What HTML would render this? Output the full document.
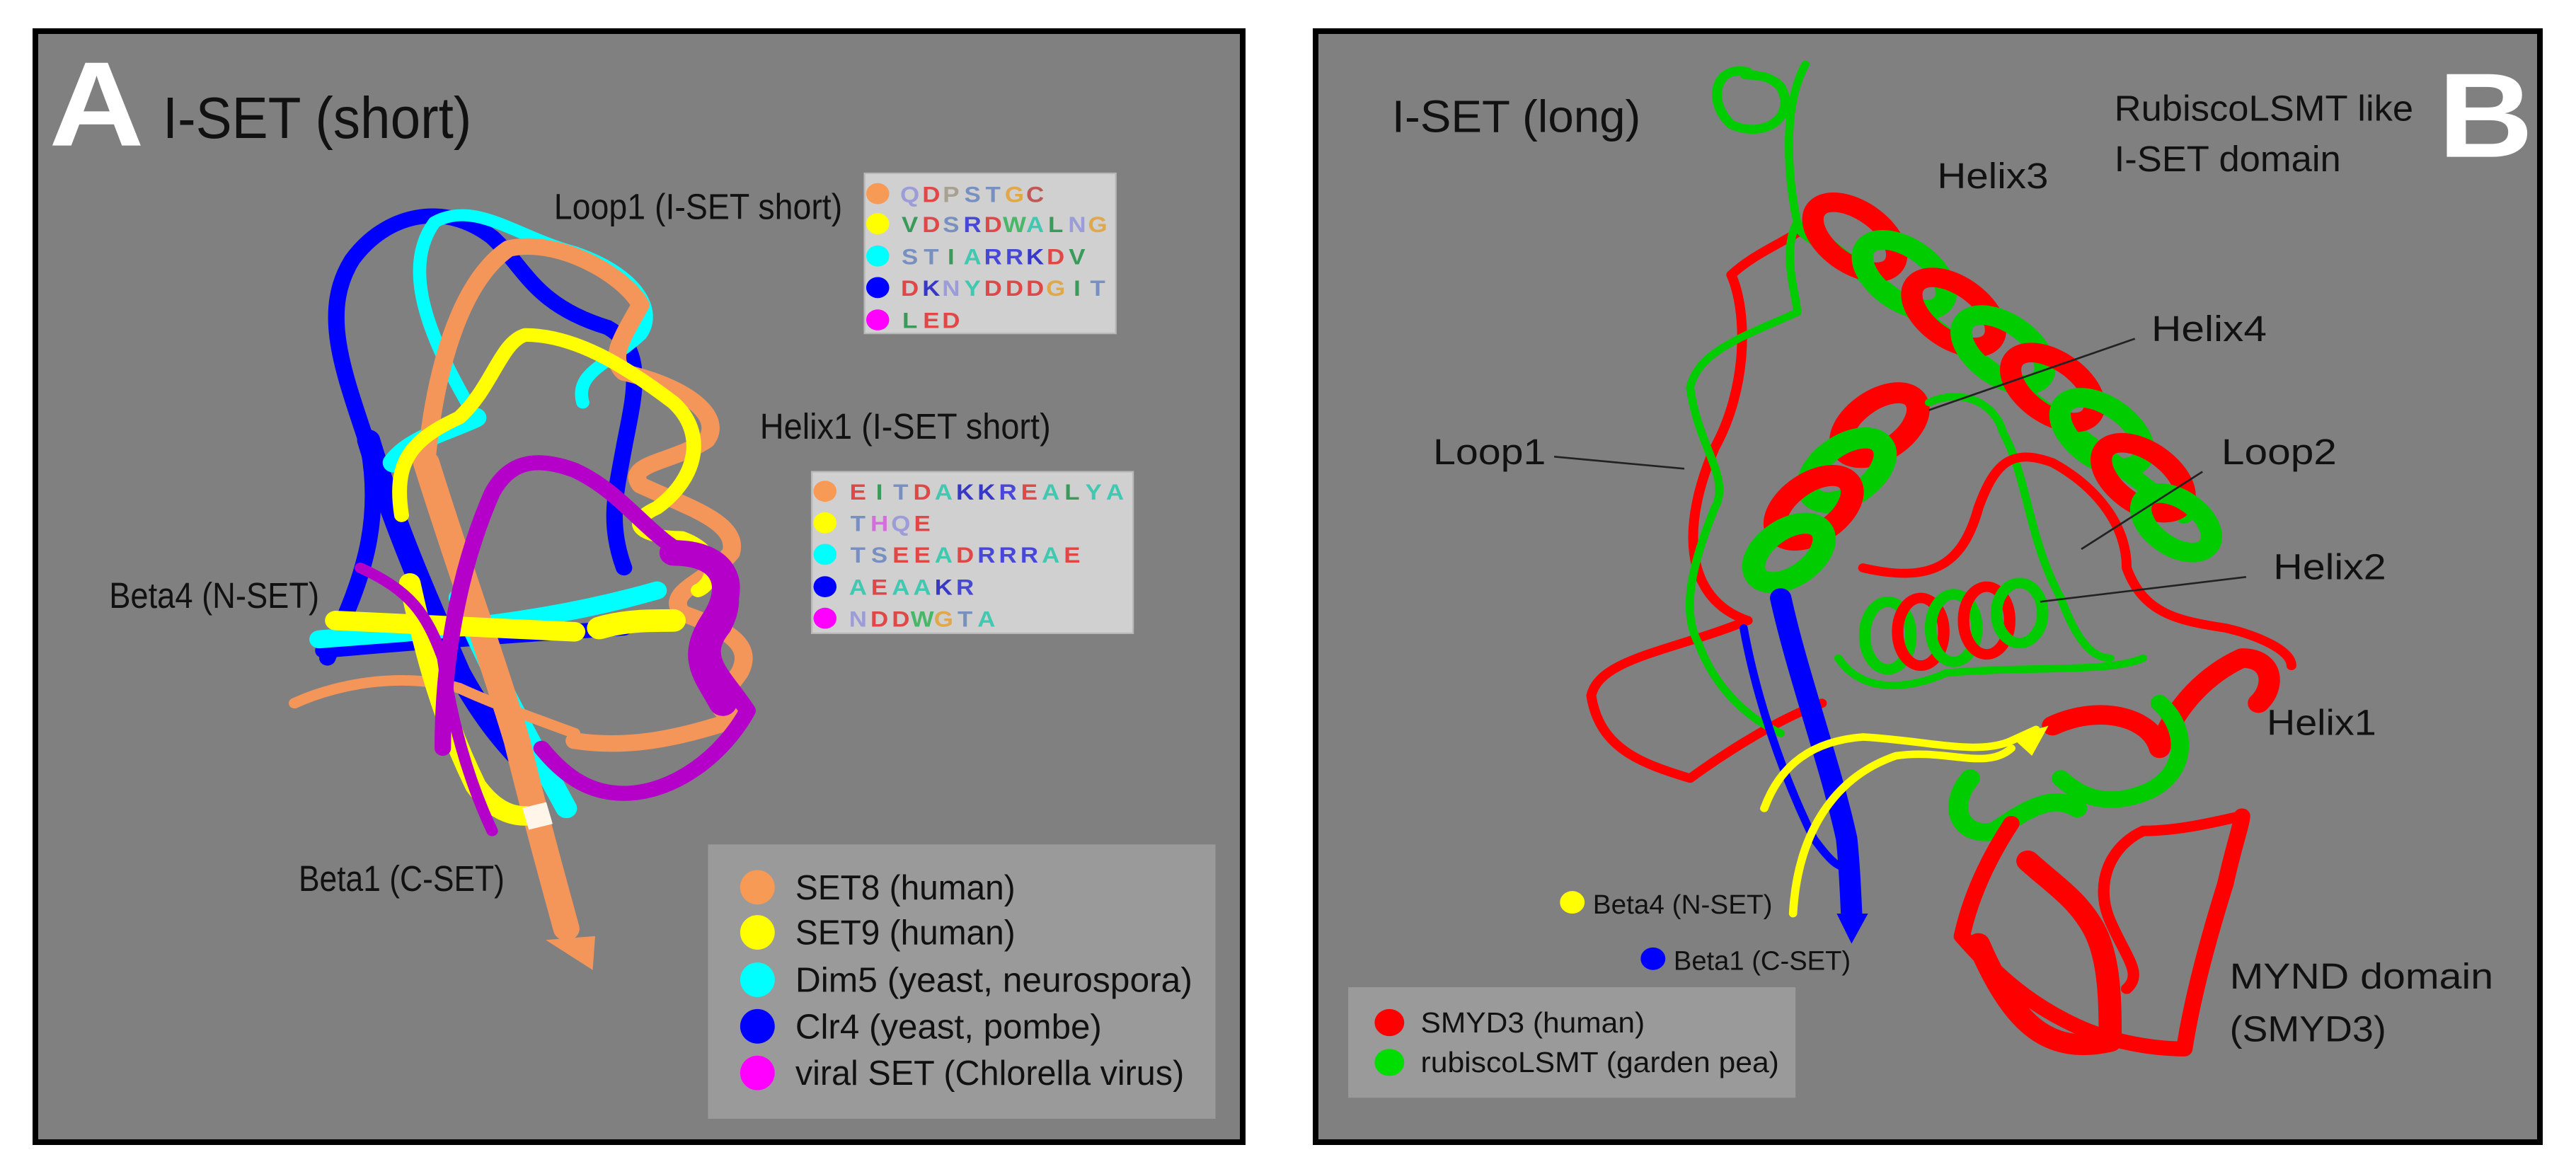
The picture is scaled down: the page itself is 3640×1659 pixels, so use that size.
<!DOCTYPE html>
<html><head><meta charset="utf-8"><style>
html,body{margin:0;padding:0;background:#fff;}
svg{display:block;}
text{font-family:"Liberation Sans",sans-serif;}
</style></head><body>
<svg width="3640" height="1659" viewBox="0 0 3640 1659" xmlns="http://www.w3.org/2000/svg">
<rect width="3640" height="1659" fill="#fff"/>
<!-- Panel A -->
<rect x="50" y="44" width="1706" height="1570" fill="#808080" stroke="#000" stroke-width="8"/>
<g transform="translate(-2.9,-4.6) scale(1.164,1.062)">
  <text x="62" y="198" font-size="160" font-weight="bold" fill="#fff">A</text>
  <text x="200" y="188" font-size="78" fill="#111" textLength="375" lengthAdjust="spacingAndGlyphs">I-SET (short)</text>
  <text x="675" y="296" font-size="48" fill="#111" textLength="350" lengthAdjust="spacingAndGlyphs">Loop1 (I-SET short)</text>
  <text x="925" y="588" font-size="48" fill="#111" textLength="353" lengthAdjust="spacingAndGlyphs">Helix1 (I-SET short)</text>
  <text x="135" y="813" font-size="48" fill="#111" textLength="255" lengthAdjust="spacingAndGlyphs">Beta4 (N-SET)</text>
  <text x="365" y="1190" font-size="48" fill="#111" textLength="250" lengthAdjust="spacingAndGlyphs">Beta1 (C-SET)</text>

  <!-- ribbons -->
  <g fill="none" stroke-linecap="round" stroke-linejoin="round">
    <path d="M400,880 C430,800 470,720 450,600 C420,500 390,420 430,350 C470,290 540,270 600,320 C640,360 650,410 740,440 C790,470 770,540 760,600 C750,660 740,700 760,760" stroke="#0000ff" stroke-width="20"/>
    <path d="M450,590 C480,700 520,800 560,900 C590,960 620,1000 650,1030" stroke="#0000ff" stroke-width="28"/>
    <path d="M395,870 C500,860 620,850 760,840" stroke="#0000ff" stroke-width="20"/>
    <path d="M580,560 C520,450 490,360 530,300 C580,270 630,320 700,340 C780,370 800,420 780,450 C740,490 700,500 710,540" stroke="#00ffff" stroke-width="16"/>
    <path d="M480,620 C500,590 540,580 580,560" stroke="#00ffff" stroke-width="26"/>
    <path d="M560,800 C600,900 640,980 690,1080" stroke="#00ffff" stroke-width="26"/>
    <path d="M390,855 C500,845 640,840 800,790" stroke="#00ffff" stroke-width="24"/>
    <path d="M520,620 C530,500 560,380 620,335 C680,320 760,370 780,410 C760,450 740,480 760,500 C840,520 880,560 860,590 C820,620 760,620 780,650 C840,680 900,700 890,740 C860,780 810,790 830,820 C880,840 920,860 900,900 C880,930 860,950 900,960 C820,990 760,1000 700,990" stroke="#f4955a" stroke-width="22"/>
    <path d="M360,940 C420,910 500,900 560,920 C600,940 650,960 700,980" stroke="#f4955a" stroke-width="14"/>
    <path d="M520,620 C560,760 600,880 630,990 C650,1080 670,1160 690,1240" stroke="#f4955a" stroke-width="32"/>
    <path d="M490,690 C480,620 500,590 560,560 C600,520 610,460 640,450 C700,450 760,490 820,540 C860,580 850,640 800,680 C760,700 780,720 830,720 C880,740 870,780 850,790" stroke="#ffff00" stroke-width="18"/>
    <path d="M410,830 C500,835 600,840 700,845" stroke="#ffff00" stroke-width="26"/>
    <path d="M500,780 C520,880 540,960 580,1050 C600,1080 620,1090 640,1090" stroke="#ffff00" stroke-width="26"/>
    <path d="M730,840 C760,830 790,830 820,830" stroke="#ffff00" stroke-width="30"/>
    <path d="M540,1000 C540,880 560,760 600,660 C620,620 650,610 700,630 C760,660 790,720 840,745 C890,760 900,800 880,840 C850,880 880,900 910,950 C880,1010 820,1060 760,1060 C720,1060 690,1040 660,1000" stroke="#b400c8" stroke-width="20"/>
    <path d="M820,740 C880,740 900,780 870,830 C840,880 860,900 880,940" stroke="#b400c8" stroke-width="34"/>
    <path d="M440,760 C500,790 520,820 540,880 C550,960 570,1040 600,1110" stroke="#b400c8" stroke-width="14"/>
  </g>
  <polygon points="665,1255 725,1250 722,1295" fill="#f4955a"/>
  <rect x="640" y="1075" width="30" height="30" fill="#fff5e8" transform="rotate(-15 655 1090)"/>

  <!-- seq box 1 -->
  <rect x="1052" y="235" width="305" height="213" fill="#d0d0d0" stroke="#b8b8b8" stroke-width="2"/>
  <g font-size="30" font-weight="bold" text-anchor="middle">
    <circle cx="1068" cy="262" r="14" fill="#f79a55"/><circle cx="1068" cy="302" r="14" fill="#ffff00"/><circle cx="1068" cy="345" r="14" fill="#00ffff"/><circle cx="1068" cy="387" r="14" fill="#0000ff"/><circle cx="1068" cy="430" r="14" fill="#ff00ff"/>
    <g transform="translate(0,11)">
    <text x="1107" y="262" fill="#9c9cd8">Q</text><text x="1133" y="262" fill="#e04848">D</text><text x="1157" y="262" fill="#a8a090">P</text><text x="1183" y="262" fill="#7890c0">S</text><text x="1208" y="262" fill="#7890c0">T</text><text x="1234" y="262" fill="#e0a848">G</text><text x="1259" y="262" fill="#c05858">C</text>
    <text x="1107" y="302" fill="#3a9a5a">V</text><text x="1133" y="302" fill="#e04848">D</text><text x="1157" y="302" fill="#7890c0">S</text><text x="1183" y="302" fill="#4848d8">R</text><text x="1208" y="302" fill="#e04848">D</text><text x="1234" y="302" fill="#48b868">W</text><text x="1259" y="302" fill="#40c8b0">A</text><text x="1284" y="302" fill="#3a9a5a">L</text><text x="1310" y="302" fill="#9c9cd8">N</text><text x="1335" y="302" fill="#e0a848">G</text>
    <text x="1107" y="345" fill="#7890c0">S</text><text x="1133" y="345" fill="#7890c0">T</text><text x="1157" y="345" fill="#3a9a5a">I</text><text x="1183" y="345" fill="#40c8b0">A</text><text x="1208" y="345" fill="#4848d8">R</text><text x="1234" y="345" fill="#4848d8">R</text><text x="1259" y="345" fill="#3838c8">K</text><text x="1284" y="345" fill="#e04848">D</text><text x="1310" y="345" fill="#3a9a5a">V</text>
    <text x="1107" y="387" fill="#e04848">D</text><text x="1133" y="387" fill="#3838c8">K</text><text x="1157" y="387" fill="#9c9cd8">N</text><text x="1183" y="387" fill="#40c8b0">Y</text><text x="1208" y="387" fill="#e04848">D</text><text x="1234" y="387" fill="#e04848">D</text><text x="1259" y="387" fill="#e04848">D</text><text x="1284" y="387" fill="#e0a848">G</text><text x="1310" y="387" fill="#3a9a5a">I</text><text x="1335" y="387" fill="#7890c0">T</text>
    <text x="1107" y="430" fill="#3a9a5a">L</text><text x="1133" y="430" fill="#e04848">E</text><text x="1157" y="430" fill="#e04848">D</text>
    </g>
  </g>
  <!-- seq box 2 -->
  <rect x="988" y="632" width="390" height="215" fill="#d0d0d0" stroke="#b8b8b8" stroke-width="2"/>
  <g font-size="30" font-weight="bold" text-anchor="middle">
    <circle cx="1004" cy="658" r="14" fill="#f79a55"/><circle cx="1004" cy="700" r="14" fill="#ffff00"/><circle cx="1004" cy="742" r="14" fill="#00ffff"/><circle cx="1004" cy="785" r="14" fill="#0000ff"/><circle cx="1004" cy="827" r="14" fill="#ff00ff"/>
    <g transform="translate(0,11)">
    <text x="1044" y="658" fill="#e04848">E</text><text x="1070" y="658" fill="#3a9a5a">I</text><text x="1096" y="658" fill="#7890c0">T</text><text x="1122" y="658" fill="#e04848">D</text><text x="1148" y="658" fill="#40c8b0">A</text><text x="1174" y="658" fill="#3838c8">K</text><text x="1200" y="658" fill="#3838c8">K</text><text x="1226" y="658" fill="#4848d8">R</text><text x="1252" y="658" fill="#e04848">E</text><text x="1278" y="658" fill="#40c8b0">A</text><text x="1304" y="658" fill="#3a9a5a">L</text><text x="1330" y="658" fill="#40c8b0">Y</text><text x="1356" y="658" fill="#40c8b0">A</text>
    <text x="1044" y="700" fill="#7890c0">T</text><text x="1070" y="700" fill="#d070d8">H</text><text x="1096" y="700" fill="#9c9cd8">Q</text><text x="1122" y="700" fill="#e04848">E</text>
    <text x="1044" y="742" fill="#7890c0">T</text><text x="1070" y="742" fill="#7890c0">S</text><text x="1096" y="742" fill="#e04848">E</text><text x="1122" y="742" fill="#e04848">E</text><text x="1148" y="742" fill="#40c8b0">A</text><text x="1174" y="742" fill="#e04848">D</text><text x="1200" y="742" fill="#4848d8">R</text><text x="1226" y="742" fill="#4848d8">R</text><text x="1252" y="742" fill="#4848d8">R</text><text x="1278" y="742" fill="#40c8b0">A</text><text x="1304" y="742" fill="#e04848">E</text>
    <text x="1044" y="785" fill="#40c8b0">A</text><text x="1070" y="785" fill="#e04848">E</text><text x="1096" y="785" fill="#40c8b0">A</text><text x="1122" y="785" fill="#40c8b0">A</text><text x="1148" y="785" fill="#3838c8">K</text><text x="1174" y="785" fill="#4848d8">R</text>
    <text x="1044" y="827" fill="#9c9cd8">N</text><text x="1070" y="827" fill="#e04848">D</text><text x="1096" y="827" fill="#e04848">D</text><text x="1122" y="827" fill="#48b868">W</text><text x="1148" y="827" fill="#e0a848">G</text><text x="1174" y="827" fill="#7890c0">T</text><text x="1200" y="827" fill="#40c8b0">A</text>
    </g>
  </g>

  <!-- legend A -->
  <rect x="862" y="1128" width="616" height="365" fill="#9a9a9a"/>
  <g font-size="46" fill="#111">
    <ellipse cx="922" cy="1185" rx="21" ry="23" fill="#f79a55"/><text x="968" y="1201" textLength="267" lengthAdjust="spacingAndGlyphs">SET8 (human)</text>
    <ellipse cx="922" cy="1245" rx="21" ry="23" fill="#ffff00"/><text x="968" y="1261" textLength="267" lengthAdjust="spacingAndGlyphs">SET9 (human)</text>
    <ellipse cx="922" cy="1308" rx="21" ry="23" fill="#00ffff"/><text x="968" y="1324" textLength="482" lengthAdjust="spacingAndGlyphs">Dim5 (yeast, neurospora)</text>
    <ellipse cx="922" cy="1370" rx="21" ry="23" fill="#0000ff"/><text x="968" y="1386" textLength="372" lengthAdjust="spacingAndGlyphs">Clr4 (yeast, pombe)</text>
    <ellipse cx="922" cy="1432" rx="21" ry="23" fill="#ff00ff"/><text x="968" y="1448" textLength="472" lengthAdjust="spacingAndGlyphs">viral SET (Chlorella virus)</text>
  </g>
</g>

<!-- Panel B -->
<rect x="1859" y="44" width="1730" height="1570" fill="#808080" stroke="#000" stroke-width="8"/>
<g transform="translate(1817.8,-4.6) scale(1.164,1.062)">
  <text x="128" y="180" font-size="60" fill="#111" textLength="302" lengthAdjust="spacingAndGlyphs">I-SET (long)</text>
  <text x="1005" y="165" font-size="48" fill="#111" textLength="363" lengthAdjust="spacingAndGlyphs">RubiscoLSMT like</text>
  <text x="1005" y="232" font-size="48" fill="#111" textLength="275" lengthAdjust="spacingAndGlyphs">I-SET domain</text>
  <text x="1398" y="213" font-size="160" font-weight="bold" fill="#fff">B</text>

  <g fill="none" stroke-linecap="round" stroke-linejoin="round">
    <!-- loops -->
    <path d="M640,300 C600,330 570,340 540,370 C560,420 560,520 520,600 C480,700 480,800 560,830 C470,870 380,880 370,930 C380,1000 430,1020 490,1040 C540,1000 600,960 650,940" stroke="#ff0000" stroke-width="12"/>
    <path d="M630,90 C600,150 610,250 620,300 C600,340 620,400 620,420 C560,450 500,470 490,520 C500,600 540,640 520,680 C490,760 480,820 500,860 C520,920 560,960 600,980" stroke="#00cc00" stroke-width="10"/>
    <path d="M560,100 C520,90 510,140 540,170 C580,190 620,160 600,120 C580,95 545,110 560,100" stroke="#00cc00" stroke-width="12"/>
    <!-- helix3 -->
    <path d="M630,310 L1090,690" stroke="#00cc00" stroke-width="22"/>
    <g stroke-width="26">
      <ellipse cx="690" cy="320" rx="60" ry="34" stroke="#ff0000" transform="rotate(40 690 320)"/>
      <ellipse cx="750" cy="370" rx="60" ry="34" stroke="#00cc00" transform="rotate(40 750 370)"/>
      <ellipse cx="810" cy="420" rx="60" ry="34" stroke="#ff0000" transform="rotate(40 810 420)"/>
      <ellipse cx="870" cy="470" rx="60" ry="34" stroke="#00cc00" transform="rotate(40 870 470)"/>
      <ellipse cx="930" cy="520" rx="60" ry="34" stroke="#ff0000" transform="rotate(40 930 520)"/>
      <ellipse cx="990" cy="580" rx="60" ry="34" stroke="#00cc00" transform="rotate(40 990 580)"/>
      <ellipse cx="1040" cy="640" rx="60" ry="34" stroke="#ff0000" transform="rotate(40 1040 640)"/>
      <ellipse cx="1080" cy="700" rx="50" ry="30" stroke="#00cc00" transform="rotate(40 1080 700)"/>
    </g>
    <!-- helix4 -->
    <g stroke-width="28">
      <ellipse cx="720" cy="570" rx="55" ry="32" stroke="#ff0000" transform="rotate(-40 720 570)"/>
      <ellipse cx="680" cy="630" rx="55" ry="32" stroke="#00cc00" transform="rotate(-40 680 630)"/>
      <ellipse cx="640" cy="680" rx="55" ry="32" stroke="#ff0000" transform="rotate(-40 640 680)"/>
      <ellipse cx="610" cy="740" rx="50" ry="30" stroke="#00cc00" transform="rotate(-40 610 740)"/>
    </g>
    <path d="M780,540 C820,520 860,540 870,580 C900,640 900,720 940,800 C960,860 980,880 1000,880" stroke="#00cc00" stroke-width="10"/>
    <path d="M700,760 C780,780 820,760 840,680 C860,620 880,600 930,620 C980,650 1020,700 1020,760 C1040,820 1080,830 1140,840 C1180,850 1220,870 1220,890" stroke="#ff0000" stroke-width="12"/>
    <!-- helix2 -->
    <g stroke-width="14">
      <ellipse cx="730" cy="850" rx="28" ry="45" stroke="#00cc00"/>
      <ellipse cx="770" cy="845" rx="28" ry="45" stroke="#ff0000"/>
      <ellipse cx="810" cy="840" rx="28" ry="45" stroke="#00cc00"/>
      <ellipse cx="850" cy="830" rx="28" ry="45" stroke="#ff0000"/>
      <ellipse cx="890" cy="820" rx="28" ry="40" stroke="#00cc00"/>
    </g>
    <path d="M670,880 C700,930 760,920 800,900 C900,890 1000,900 1040,880" stroke="#00cc00" stroke-width="10"/>
    <!-- helix1 region -->
    <path d="M930,970 C990,940 1050,960 1060,1000 C1080,940 1120,900 1160,880 C1200,880 1200,920 1180,940" stroke="#ff0000" stroke-width="26"/>
    <path d="M1060,940 C1100,980 1090,1040 1040,1060 C990,1080 960,1060 940,1040" stroke="#00cc00" stroke-width="22"/>
    <path d="M830,1040 C800,1080 820,1120 860,1110 C900,1080 930,1060 960,1080" stroke="#00cc00" stroke-width="24"/>
    <!-- MYND -->
    <path d="M880,1100 C850,1150 830,1200 820,1250 C860,1300 900,1340 960,1370 C1000,1390 1050,1400 1090,1400 C1100,1330 1120,1250 1140,1180 C1150,1130 1160,1100 1160,1090" stroke="#ff0000" stroke-width="20"/>
    <path d="M840,1260 C880,1360 920,1410 1000,1390 C1000,1340 1000,1280 980,1240 C960,1200 930,1180 900,1150" stroke="#ff0000" stroke-width="28"/>
    <path d="M1160,1090 C1120,1100 1080,1110 1040,1110 C1000,1130 980,1180 1000,1230 C1020,1280 1040,1300 1020,1320" stroke="#ff0000" stroke-width="14"/>
    <!-- blue beta -->
    <path d="M555,840 C570,930 600,1030 640,1120 C660,1150 670,1160 685,1160" stroke="#0000ff" stroke-width="10"/>
    <path d="M600,800 C620,900 660,1020 680,1120 C684,1160 685,1200 686,1220" stroke="#0000ff" stroke-width="26"/>
    <!-- yellow -->
    <path d="M580,1080 C600,1020 640,990 700,985 C780,990 840,1010 880,990 C900,980 910,975 910,975" stroke="#ffff00" stroke-width="10"/>
    <path d="M615,1220 C620,1120 660,1040 740,1010 C800,1000 850,1030 880,1000" stroke="#ffff00" stroke-width="10"/>
  </g>
  <polygon points="668,1220 706,1220 686,1260" fill="#0000ff"/>
  <polygon points="880,985 925,970 905,1010" fill="#ffff00"/>

  <!-- leader lines -->
  <g stroke="#222" stroke-width="2.5">
    <line x1="325" y1="612" x2="483" y2="628"/>
    <line x1="1030" y1="455" x2="780" y2="550"/>
    <line x1="1112" y1="632" x2="965" y2="735"/>
    <line x1="1165" y1="772" x2="915" y2="805"/>
  </g>
  <g font-size="48" fill="#111">
    <text x="790" y="255" textLength="135" lengthAdjust="spacingAndGlyphs">Helix3</text>
    <text x="1050" y="458" textLength="140" lengthAdjust="spacingAndGlyphs">Helix4</text>
    <text x="178" y="622" textLength="137" lengthAdjust="spacingAndGlyphs">Loop1</text>
    <text x="1135" y="622" textLength="140" lengthAdjust="spacingAndGlyphs">Loop2</text>
    <text x="1198" y="775" textLength="137" lengthAdjust="spacingAndGlyphs">Helix2</text>
    <text x="1190" y="982" textLength="133" lengthAdjust="spacingAndGlyphs">Helix1</text>
    <text x="1145" y="1320" textLength="320" lengthAdjust="spacingAndGlyphs">MYND domain</text>
    <text x="1145" y="1390" textLength="190" lengthAdjust="spacingAndGlyphs">(SMYD3)</text>
  </g>
  <g font-size="36" fill="#111">
    <circle cx="347" cy="1205" r="15" fill="#ffff00"/><text x="372" y="1220" textLength="218" lengthAdjust="spacingAndGlyphs">Beta4 (N-SET)</text>
    <circle cx="445" cy="1280" r="15" fill="#0000ff"/><text x="470" y="1295" textLength="215" lengthAdjust="spacingAndGlyphs">Beta1 (C-SET)</text>
  </g>
  <rect x="75" y="1318" width="543" height="147" fill="#9a9a9a"/>
  <g font-size="38" fill="#111">
    <circle cx="125" cy="1365" r="18" fill="#ff0000"/><text x="163" y="1378" textLength="272" lengthAdjust="spacingAndGlyphs">SMYD3 (human)</text>
    <circle cx="125" cy="1418" r="18" fill="#00dd00"/><text x="163" y="1431" textLength="435" lengthAdjust="spacingAndGlyphs">rubiscoLSMT (garden pea)</text>
  </g>
</g>
</svg>
</body></html>
